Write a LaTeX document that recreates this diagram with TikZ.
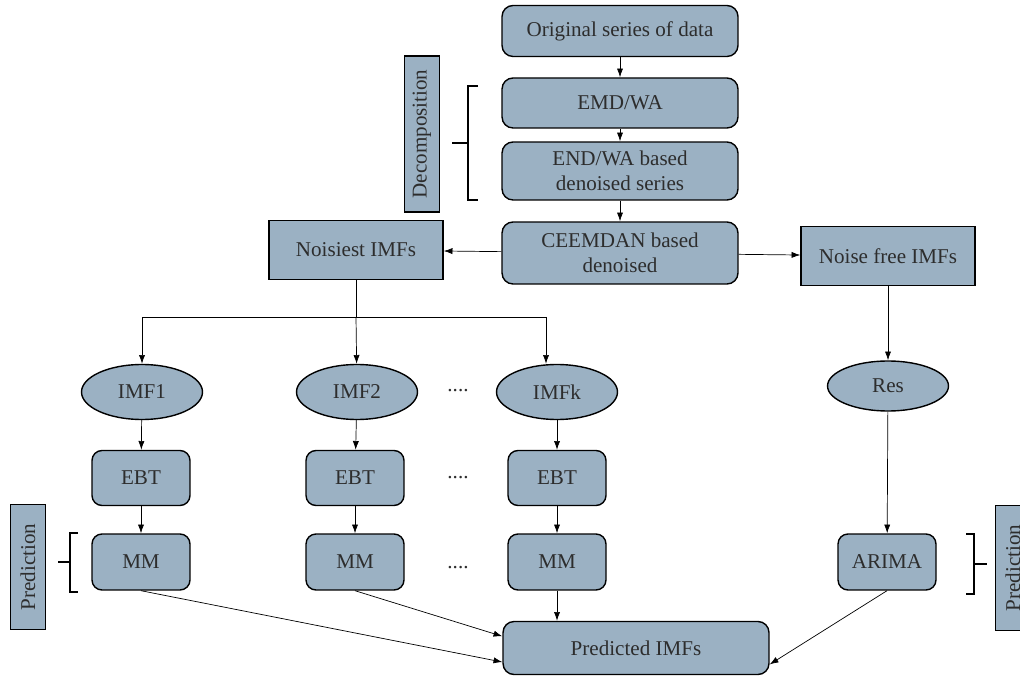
\documentclass[tikz,border=0pt]{standalone}
\usepackage{fontspec}
\setmainfont{Liberation Serif}
\usepackage{xcolor}
\usetikzlibrary{arrows.meta, shapes.geometric}
\definecolor{boxcolor}{RGB}{155,177,195}
\definecolor{textcolor}{RGB}{45,45,45}

\tikzset{
  procbox/.style={draw, thick, fill=boxcolor, rounded corners=0.22cm, text=textcolor, align=center, font=\fontsize{12}{14}\selectfont},
  plainbox/.style={draw, thick, fill=boxcolor, text=textcolor, align=center, font=\fontsize{12}{14}\selectfont},
  imfnode/.style={draw, thick, fill=boxcolor, ellipse, text=textcolor, minimum width=2.42cm, minimum height=1.1cm, inner sep=1pt, font=\fontsize{12}{14}\selectfont},
  sidelabel/.style={draw, thick, fill=boxcolor, rotate=90, text=textcolor, minimum height=0.7cm, inner sep=1pt, font=\fontsize{12}{14}\selectfont},
  flow/.style={-{Latex[length=5pt,width=3.5pt]}}
}

\begin{document}
\begin{tikzpicture}[x=0.02cm, y=-0.02cm] % pixel units, y downwards

    \useasboundingbox (0,0) rectangle (1020,678);

    % Main column
    \node[procbox, minimum width=4.72cm, minimum height=1.02cm] (orig) at (620,31) {Original series of data};
    \node[procbox, minimum width=4.72cm, minimum height=1.0cm] (emd) at (620,103) {EMD/WA};
    \node[procbox, minimum width=4.72cm, minimum height=1.16cm] (den) at (620,171) {END/WA based\\denoised series};
    \node[procbox, minimum width=4.72cm, minimum height=1.24cm] (ceem) at (620,253) {CEEMDAN based\\denoised};

    % Left and right branches
    \node[plainbox, minimum width=3.48cm, minimum height=1.18cm] (noisy) at (356,250) {Noisiest IMFs};
    \node[plainbox, minimum width=3.48cm, minimum height=1.18cm] (free) at (888,256) {Noise free IMFs};

    % IMFs
    \node[imfnode] (imf1) at (142,392) {IMF1};
    \node[imfnode] (imf2) at (357,392) {IMF2};
    \node[imfnode] (imfk) at (557,392) {IMFk};
    \node[imfnode, minimum height=1.0cm] (res) at (888,386) {Res};

    % EBT row
    \node[procbox, rounded corners=0.2cm, minimum width=1.96cm, minimum height=1.1cm] (ebt1) at (141,478) {EBT};
    \node[procbox, rounded corners=0.2cm, minimum width=1.96cm, minimum height=1.1cm] (ebt2) at (355,478) {EBT};
    \node[procbox, rounded corners=0.2cm, minimum width=1.96cm, minimum height=1.1cm] (ebt3) at (557,478) {EBT};

    % MM row
    \node[procbox, rounded corners=0.2cm, minimum width=1.96cm, minimum height=1.12cm] (mm1) at (141,562) {MM};
    \node[procbox, rounded corners=0.2cm, minimum width=1.96cm, minimum height=1.12cm] (mm2) at (355,562) {MM};
    \node[procbox, rounded corners=0.2cm, minimum width=1.96cm, minimum height=1.12cm] (mm3) at (557,562) {MM};
    \node[procbox, rounded corners=0.2cm, minimum width=1.96cm, minimum height=1.12cm] (arima) at (887,562) {ARIMA};

    % Output
    \node[procbox, minimum width=5.32cm, minimum height=1.06cm] (pred) at (636,648) {Predicted IMFs};

    % Dots between columns
    \node[text=textcolor, font=\fontsize{12}{14}\selectfont] (dots1) at (458,391) {....};
    \node[text=textcolor, font=\fontsize{12}{14}\selectfont] (dots2) at (458,478) {....};
    \node[text=textcolor, font=\fontsize{12}{14}\selectfont] (dots3) at (458,568) {....};

    % Side labels
    \node[sidelabel, minimum width=3.12cm] (decomp) at (422,134) {Decomposition};
    \node[sidelabel, minimum width=2.5cm] (predl) at (28,567) {Prediction};
    \node[sidelabel, minimum width=2.5cm] (predr) at (1013,568) {Prediction};

    % Brackets
    \draw[thick] (478,86) -- (468,86) -- (468,200) -- (478,200); % Decomposition
    \draw[thick] (452,143) -- (468,143);
    \draw[thick] (78,533) -- (70,533) -- (70,592) -- (78,592); % Prediction left
    \draw[thick] (58,562) -- (70,562);
    \draw[thick] (966,534) -- (974,534) -- (974,594) -- (966,594); % Prediction right
    \draw[thick] (974,564) -- (987,564);

    % Main column arrows
    \draw[flow] (orig) -- (emd);
    \draw[flow] (emd) -- (den);
    \draw[flow] (den) -- (ceem);
    \draw[flow] (ceem) -- (noisy);
    \draw[flow] (ceem) -- (free);

    % Split of the noisiest IMFs
    \coordinate (split) at (356,317);
    \coordinate (kturn) at (546,317);
    \draw (noisy) -- (split);
    \draw[flow] (split) -| (imf1);
    \draw[flow] (split) -- (imf2);
    \draw (split) -- (kturn);
    \draw[flow] (kturn) -- (kturn |- imfk.north);

    % Down the columns
    \draw[flow] (imf1) -- (ebt1);
    \draw[flow] (imf2) -- (ebt2);
    \draw[flow] (imfk) -- (ebt3);
    \draw[flow] (ebt1) -- (mm1);
    \draw[flow] (ebt2) -- (mm2);
    \draw[flow] (ebt3) -- (mm3);
    \draw[flow] (free) -- (res);
    \draw[flow] (res) -- (arima);

    % Into the prediction
    \draw[flow] (mm1.south) -- (pred.186);
    \draw[flow] (mm2.south) -- (pred.175);
    \draw[flow] (mm3) -- (pred.north -| mm3);
    \draw[flow] (arima.south) -- (pred.353);

\end{tikzpicture}
\end{document}
